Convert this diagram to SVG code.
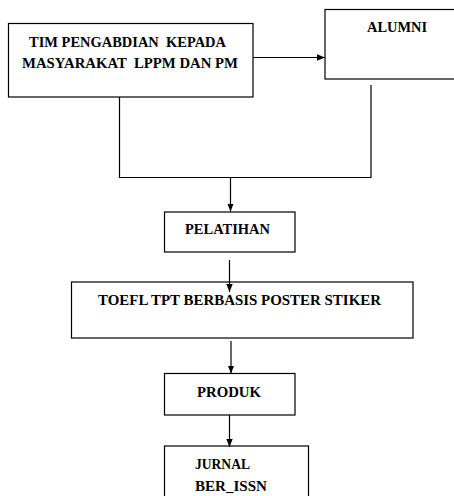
<svg xmlns="http://www.w3.org/2000/svg" width="454" height="496" viewBox="0 0 454 496">
<style>
.box{fill:#fff;stroke:#000;stroke-width:1.2}
.t{font-family:'Liberation Serif','Times New Roman','DejaVu Serif',serif;font-weight:700;font-size:15px;fill:#000;white-space:pre}
.c{fill:none;stroke:#000;stroke-width:1.2}
</style>
<defs>
<marker id="ah" viewBox="0 0 10 10" refX="10" refY="5" markerWidth="8" markerHeight="8" markerUnits="userSpaceOnUse" orient="auto">
<path d="M0,1 L10,5 L0,9 Z" fill="#000"/>
</marker>
</defs>
<rect width="454" height="496" fill="#fff"/>
<g id="tim">
<rect class="box" x="8.5" y="23.5" width="244.5" height="73.5"/>
<text class="t" x="29" y="47" textLength="197" lengthAdjust="spacingAndGlyphs" xml:space="preserve">TIM PENGABDIAN  KEPADA</text>
<text class="t" x="22" y="68" textLength="216" lengthAdjust="spacingAndGlyphs" xml:space="preserve">MASYARAKAT  LPPM DAN PM</text>
</g>
<g id="alumni">
<rect class="box" x="325" y="9.5" width="135" height="69.5" stroke-width="1.5"/>
<text class="t" x="367" y="32" textLength="60" lengthAdjust="spacingAndGlyphs">ALUMNI</text>
</g>
<g id="pelatihan">
<rect class="box" x="164.5" y="212" width="130.5" height="40"/>
<text class="t" x="185" y="234" textLength="85" lengthAdjust="spacingAndGlyphs">PELATIHAN</text>
</g>
<g id="toefl">
<rect class="box" x="71.5" y="282" width="341.5" height="56"/>
<text class="t" x="98" y="305" textLength="283" lengthAdjust="spacingAndGlyphs">TOEFL TPT BERBASIS POSTER STIKER</text>
</g>
<g id="produk">
<rect class="box" x="164.5" y="373.5" width="130.5" height="41.5"/>
<text class="t" x="197" y="397" textLength="64" lengthAdjust="spacingAndGlyphs">PRODUK</text>
</g>
<g id="jurnal">
<rect class="box" x="164.5" y="446" width="144" height="60"/>
<text class="t" x="195" y="469" textLength="55" lengthAdjust="spacingAndGlyphs">JURNAL</text>
<text class="t" x="195" y="491" textLength="72" lengthAdjust="spacingAndGlyphs">BER_ISSN</text>
</g>
<g id="connectors">
<line class="c" x1="253" y1="57.5" x2="325" y2="57.5" marker-end="url(#ah)"/>
<polyline class="c" points="119.5,97 119.5,177.5 371,177.5 371,85"/>
<line class="c" x1="230.5" y1="177.5" x2="230.5" y2="211.5" marker-end="url(#ah)"/>
<line class="c" x1="229.5" y1="260" x2="229.5" y2="292" marker-end="url(#ah)"/>
<line class="c" x1="231" y1="341" x2="231" y2="373.5" marker-end="url(#ah)"/>
<line class="c" x1="229.5" y1="415" x2="229.5" y2="447" marker-end="url(#ah)"/>
</g>
</svg>
